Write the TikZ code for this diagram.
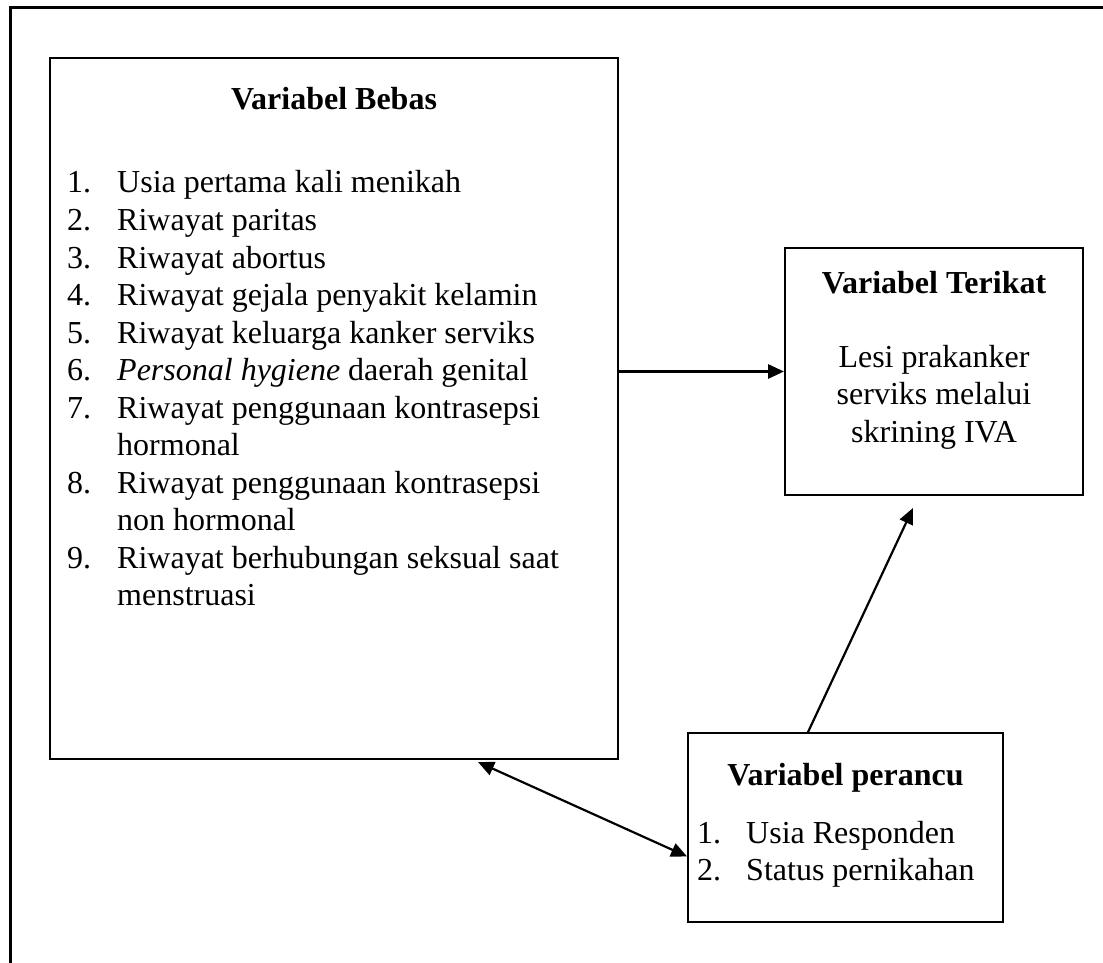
\documentclass[tikz,border=0pt]{standalone}
\usepackage{fontspec}
\setmainfont{Liberation Serif}
\usetikzlibrary{arrows.meta}
\begin{document}
\begin{tikzpicture}[x=1pt,y=-1pt,
  box/.style={draw,line width=2pt,minimum width=#1,inner sep=0pt},
  txt/.style={anchor=base west,inner sep=0pt,font=\fontsize{32pt}{37.5pt}\selectfont},
  ctxt/.style={anchor=base,inner sep=0pt,font=\fontsize{32pt}{37.5pt}\selectfont},
  arr/.style={line width=2.5pt,-{Triangle[length=16pt,width=14pt]}},
  darr/.style={line width=2.2pt,{Triangle[length=16pt,width=14pt]}-{Triangle[length=16pt,width=14pt]}}]
\useasboundingbox (0,0) rectangle (1103,963);
\clip (0,0) rectangle (1103,963);
\draw[line width=2.5pt] (10.5,7.5) rectangle (1120,990);
% boxes
\node[box=568pt,minimum height=701pt] (bebas) at (334,408.5) {};
\node[box=298pt,minimum height=247pt] (terikat) at (934,371.5) {};
\node[box=315pt,minimum height=189pt,line width=1.8pt] (perancu) at (845.5,827.5) {};
% Bebas text
\node[ctxt] (bt) at (334,110) {\textbf{Variabel Bebas}};
\foreach \n/\t/\y in {1/Usia pertama kali menikah/193,
  2/Riwayat paritas/230.5,
  3/Riwayat abortus/268,
  4/Riwayat gejala penyakit kelamin/305.5,
  5/Riwayat keluarga kanker serviks/343,
  6/\textit{Personal hygiene} daerah genital/380.5,
  7/Riwayat penggunaan kontrasepsi/418,
  8/Riwayat penggunaan kontrasepsi/493,
  9/Riwayat berhubungan seksual saat/568}{
  \node[txt] (bn\n) at (67,\y) {\n.};
  \node[txt] (bi\n) at (117,\y) {\t};
}
\node[txt] (bi7b) at (117,455.5) {hormonal};
\node[txt] (bi8b) at (117,530.5) {non hormonal};
\node[txt] (bi9b) at (117,605.5) {menstruasi};
% Terikat text
\node[ctxt] (tt) at (934,293) {\textbf{Variabel Terikat}};
\node[ctxt] (tb1) at (934,367) {Lesi prakanker};
\node[ctxt] (tb2) at (934,404.5) {serviks melalui};
\node[ctxt] (tb3) at (934,442) {skrining IVA};
% Perancu text
\node[ctxt] (pt) at (845.5,785) {\textbf{Variabel perancu}};
\node[txt] (pn1) at (697,843) {1.};
\node[txt] (pi1) at (746,843) {Usia Responden};
\node[txt] (pn2) at (697,880.5) {2.};
\node[txt] (pi2) at (746,880.5) {Status pernikahan};
% connectors
\draw[arr,line width=3pt] (bebas.east |- terikat.west) -- (terikat.west);
\coordinate (pa) at ([xshift=-37.5pt]perancu.north);
\coordinate (ta) at ([xshift=-21pt,yshift=-12pt]terikat.south);
\draw[arr,line width=2.2pt] (pa) -- (ta);
\coordinate (ba) at ([xshift=144pt,yshift=-2pt]bebas.south);
\coordinate (pb) at ([yshift=-29pt]perancu.west);
\draw[darr] (ba) -- (pb);
\end{tikzpicture}
\end{document}
